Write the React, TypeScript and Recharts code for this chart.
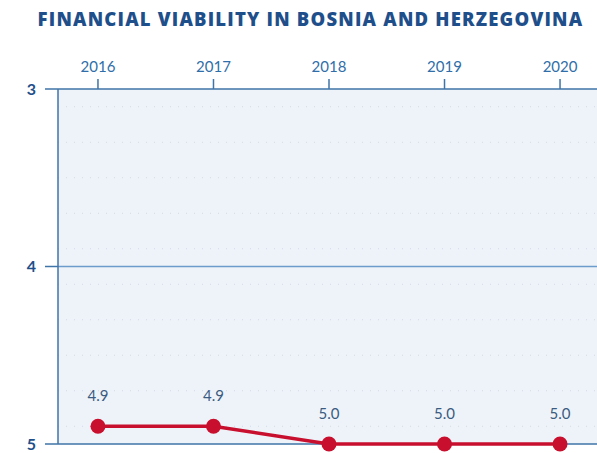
import { LineChart, Line, XAxis, YAxis, CartesianGrid, ReferenceLine, LabelList } from "recharts";

const years = [2016, 2017, 2018, 2019, 2020];
const scores = [4.9, 4.9, 5.0, 5.0, 5.0];
const yTicks = [3, 4, 5];

const data = years.map((year, i) => ({ year, score: scores[i] }));

// faint dotted rows in the plot background
const gridRows = Array.from({ length: 19 }, (_, i) => 3.1 + i * 0.1);

const blue = "#3f74a8";
const navy = "#1f4f8a";
const red = "#c8102e";

export default function App() {
  return (
    <div style={{ position: "absolute", left: 0, top: 0, width: 597, height: 453, background: "#fff", fontFamily: "Lato, sans-serif" }}>
      <div
        style={{
          position: "absolute",
          top: 6,
          left: 12,
          width: 597,
          textAlign: "center",
          fontWeight: 800,
          fontSize: 18.5,
          color: navy,
          letterSpacing: 1.2,
          fontFamily: "'Open Sans', sans-serif",
          whiteSpace: "nowrap",
        }}
      >
        FINANCIAL VIABILITY IN BOSNIA AND HERZEGOVINA
      </div>
      <LineChart width={597} height={453} data={data} margin={{ top: 39, right: 0, left: 0, bottom: 9 }}>
        <CartesianGrid
          fill="#eef3fa"
          stroke="#cfdbea"
          strokeDasharray="1 7"
          horizontalValues={gridRows}
          vertical={false}
        />
        <XAxis
          dataKey="year"
          type="number"
          orientation="top"
          domain={[2015.654, 2020.32]}
          ticks={years}
          allowDataOverflow
          height={50}
          tickSize={10}
          tickMargin={7}
          stroke={blue}
          strokeWidth={1.5}
          tick={{ fill: "#2f6ea8", fontSize: 15, fontFamily: "Lato, sans-serif" }}
        />
        <YAxis
          domain={[3, 5]}
          reversed
          ticks={yTicks}
          width={58}
          tickSize={13}
          tickMargin={9}
          stroke={blue}
          strokeWidth={1.5}
          tick={{ fill: navy, fontSize: 16, fontWeight: 700, fontFamily: "Lato, sans-serif" }}
        />
        <ReferenceLine y={4} stroke="#6c9ccb" strokeWidth={1.5} />
        <ReferenceLine y={5} stroke={blue} strokeWidth={1.5} />
        <Line
          type="linear"
          dataKey="score"
          stroke={red}
          strokeWidth={3.5}
          dot={{ r: 7.5, fill: red, stroke: red, strokeWidth: 0 }}
          isAnimationActive={false}
        >
          <LabelList
            dataKey="score"
            position="top"
            offset={25}
            formatter={(v: number) => v.toFixed(1)}
            style={{ fill: "#3b5b80", fontSize: 15, fontFamily: "Lato, sans-serif" }}
          />
        </Line>
      </LineChart>
    </div>
  );
}
